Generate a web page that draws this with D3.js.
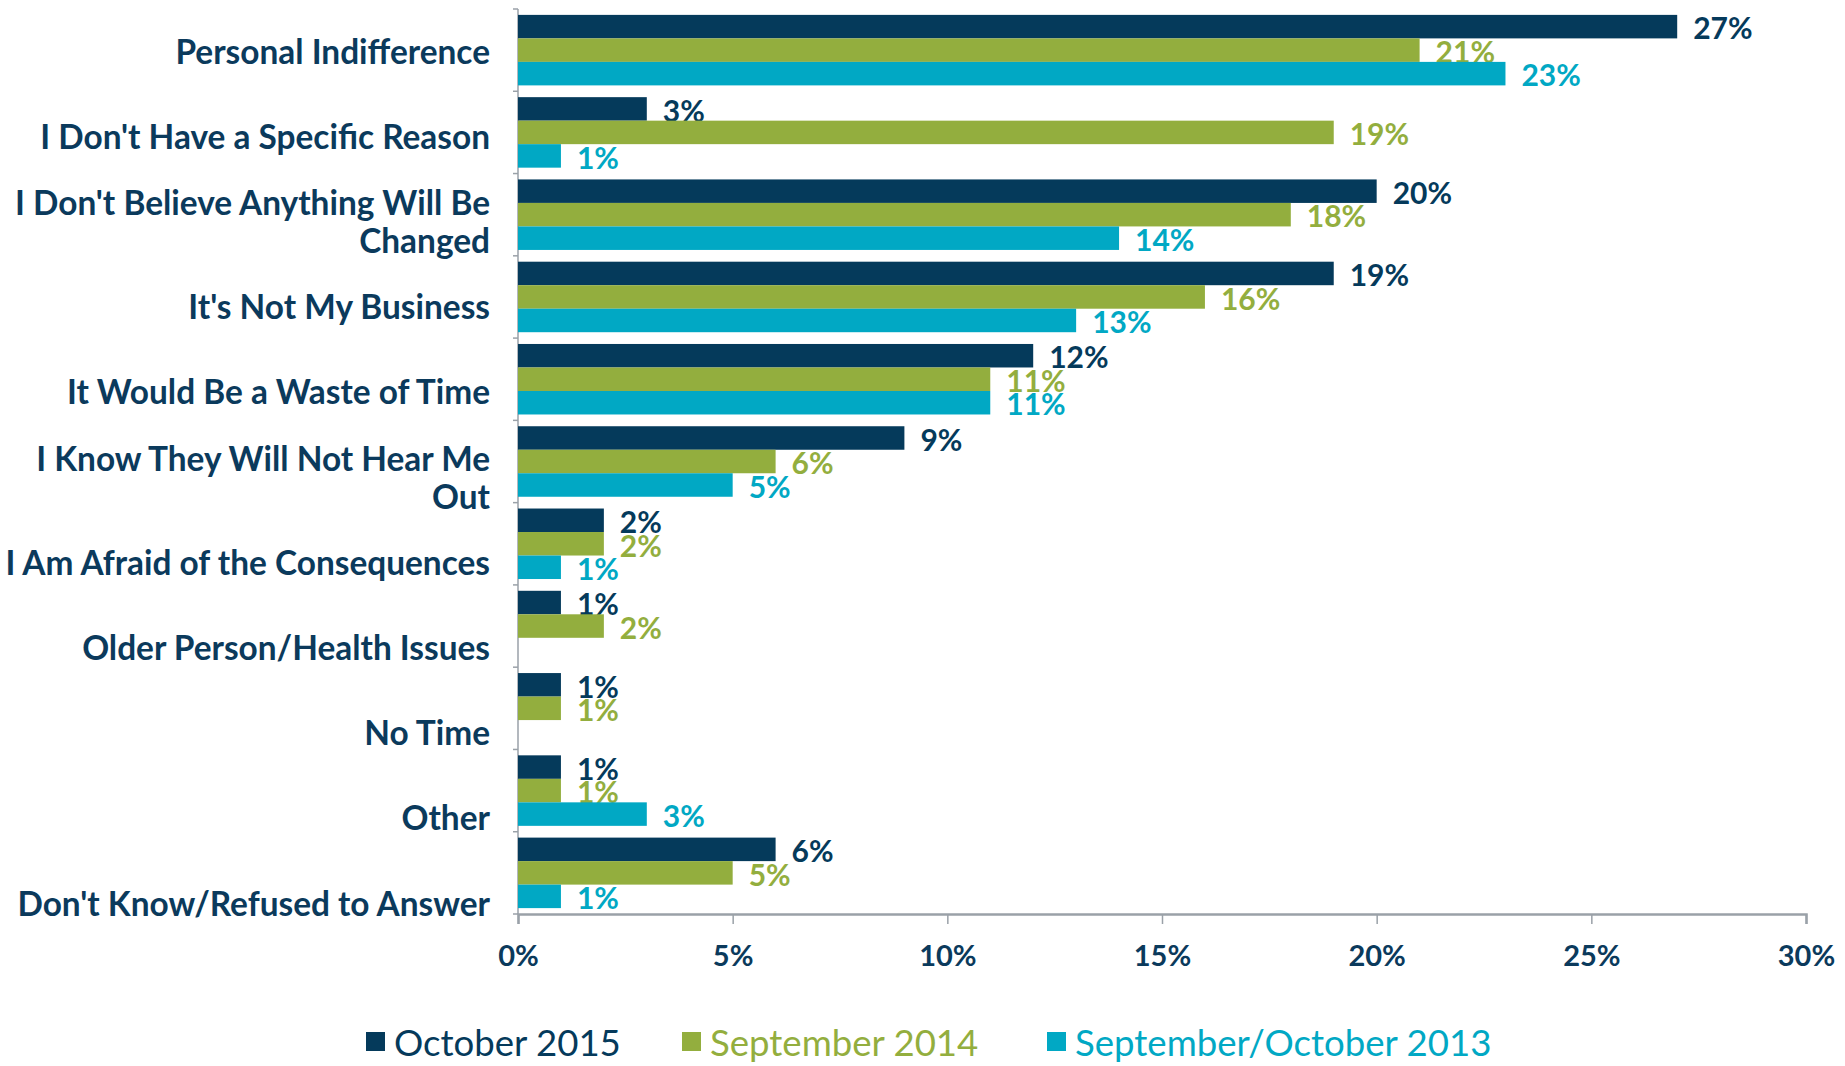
<!DOCTYPE html>
<html>
<head>
<meta charset="utf-8">
<script src="https://cdn.jsdelivr.net/npm/d3@7"></script>
<style>
  html, body { margin: 0; padding: 0; background: #ffffff; }
  svg { display: block; }
  text { font-family: Lato, "Open Sans", sans-serif; }
</style>
</head>
<body>
<svg id="chart" width="1845" height="1066"></svg>
<script>
// Reasons for not taking part — share of respondents by survey wave
const categories = [
  "Personal Indifference",
  "I Don't Have a Specific Reason",
  "I Don't Believe Anything Will Be\nChanged",
  "It's Not My Business",
  "It Would Be a Waste of Time",
  "I Know They Will Not Hear Me\nOut",
  "I Am Afraid of the Consequences",
  "Older Person/Health Issues",
  "No Time",
  "Other",
  "Don't Know/Refused to Answer"
];
const seriesNames = ["October 2015", "September 2014", "September/October 2013"];
const oct2015 = [27, 3, 20, 19, 12, 9, 2, 1, 1, 1, 6];
const sep2014 = [21, 19, 18, 16, 11, 6, 2, 2, 1, 1, 5];
const sepOct2013 = [23, 1, 14, 13, 11, 5, 1, null, null, 3, 1];
const xTicks = [0, 5, 10, 15, 20, 25, 30];

const seriesValues = [oct2015, sep2014, sepOct2013];
const colors = ["#053a5b", "#93ae3e", "#01a8c4"];
const textColor = "#0b3a5c";
const axisColor = "#9aa1a8";

const svg = d3.select("#chart");

const x0 = 518, x1 = 1806;
const yTop = 9, yBottom = 914;

const x = d3.scaleLinear().domain([0, 30]).range([x0, x1]);

// category bands, bars centred with half the gap on each side
const y = d3.scaleBand()
  .domain(categories)
  .range([yTop, yBottom])
  .paddingInner(0.143)
  .paddingOuter(0.0715);

const ySub = d3.scaleBand()
  .domain(d3.range(seriesNames.length))
  .range([0, y.bandwidth()]);

// positions of the category labels on the left
const labelY = d3.scalePoint()
  .domain(categories)
  .range([52, 904]);

// x axis
const xAxis = d3.axisBottom(x)
  .tickValues(xTicks)
  .tickSize(10)
  .tickFormat(d => d + "%");

const gx = svg.append("g")
  .attr("transform", `translate(0,${yBottom})`)
  .call(xAxis);
gx.select(".domain").attr("stroke", axisColor).attr("stroke-width", 2.5);
gx.selectAll(".tick line").attr("stroke", axisColor).attr("stroke-width", 1.5);
gx.selectAll(".tick text")
  .attr("fill", textColor)
  .attr("font-size", 29)
  .attr("font-weight", 700)
  .attr("dy", null)
  .attr("y", 52);

// y axis line and boundary ticks
const boundaries = categories.map(c => y(c) - y.step() * y.paddingInner() / 2)
  .concat([yBottom]);
svg.append("line")
  .attr("x1", x0).attr("x2", x0)
  .attr("y1", yTop).attr("y2", yBottom)
  .attr("stroke", axisColor).attr("stroke-width", 1.5);
svg.append("g").selectAll("line")
  .data(boundaries)
  .join("line")
  .attr("x1", x0 - 5).attr("x2", x0)
  .attr("y1", d => d).attr("y2", d => d)
  .attr("stroke", axisColor).attr("stroke-width", 1.5);

// category labels
const lineHeight = 38;
const catLabels = svg.append("g").selectAll("text")
  .data(categories)
  .join("text")
  .attr("text-anchor", "end")
  .attr("fill", textColor)
  .attr("font-size", 33.4)
  .attr("font-weight", 700)
  .attr("x", 490)
  .attr("y", d => labelY(d));
catLabels.each(function(d) {
  const lines = d.split("\n");
  const t = d3.select(this);
  lines.forEach((ln, i) => {
    t.append("tspan")
      .attr("x", 490)
      .attr("y", labelY(d) + (i - (lines.length - 1) / 2) * lineHeight)
      .attr("dy", "0.35em")
      .text(ln);
  });
});

// bars and value labels, one series at a time
seriesValues.forEach((vals, s) => {
  const rows = categories.map((c, i) => ({ c, v: vals[i] })).filter(d => d.v != null);
  const g = svg.append("g");
  g.selectAll("rect")
    .data(rows)
    .join("rect")
    .attr("x", x(0))
    .attr("y", d => y(d.c) + ySub(s))
    .attr("width", d => x(d.v) - x(0))
    .attr("height", ySub.bandwidth())
    .attr("fill", colors[s]);
  g.selectAll("text")
    .data(rows)
    .join("text")
    .attr("x", d => x(d.v) + 16)
    .attr("y", d => y(d.c) + ySub(s) + ySub.bandwidth() + 1)
    .attr("fill", colors[s])
    .attr("font-size", 30)
    .attr("font-weight", 700)
    .text(d => d.v + "%");
});

// legend
const legendX = [366, 682, 1047];
const legend = svg.append("g").selectAll("g")
  .data(seriesNames)
  .join("g")
  .attr("transform", (d, i) => `translate(${legendX[i]},1032)`);
legend.append("rect")
  .attr("width", 19).attr("height", 19)
  .attr("fill", (d, i) => colors[i]);
legend.append("text")
  .attr("x", 28)
  .attr("y", 24)
  .attr("font-size", 36.6)
  .attr("fill", (d, i) => colors[i])
  .text(d => d);
</script>
</body>
</html>
